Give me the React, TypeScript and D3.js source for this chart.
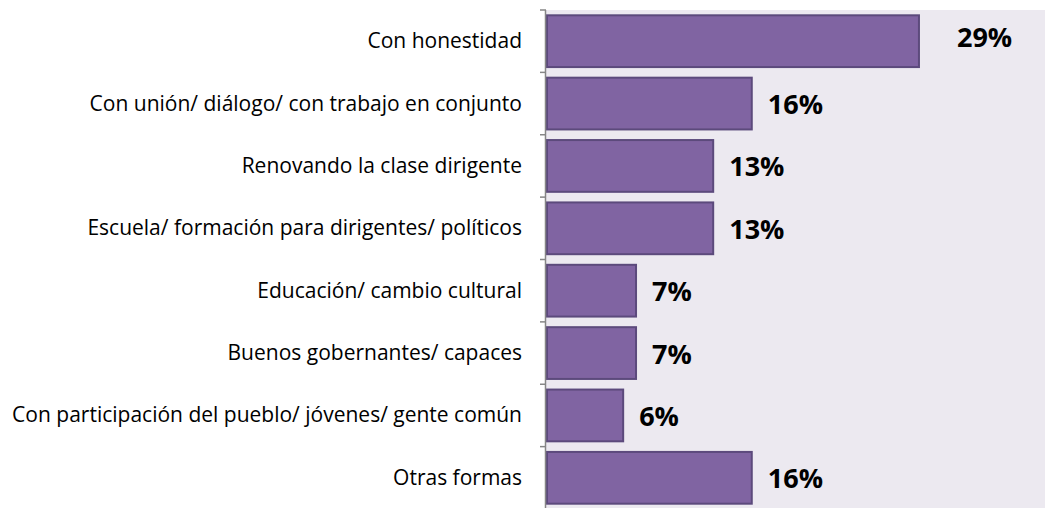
import React from "react";
import * as d3 from "d3";

const categories = [
  "Con honestidad",
  "Con unión/ diálogo/ con trabajo en conjunto",
  "Renovando la clase dirigente",
  "Escuela/ formación para dirigentes/ políticos",
  "Educación/ cambio cultural",
  "Buenos gobernantes/ capaces",
  "Con participación del pueblo/ jóvenes/ gente común",
  "Otras formas",
];
const values = [29, 16, 13, 13, 7, 7, 6, 16];
const valueLabels = ["29%", "16%", "13%", "13%", "7%", "7%", "6%", "16%"];

const W = 1045;
const H = 508;
const plotLeft = 546;
const plotTop = 10;
const plotBottom = 509;

export default function App() {
  const x = d3.scaleLinear().domain([0, 38.8]).range([plotLeft, W]);
  const y = d3
    .scaleBand<string>()
    .domain(categories)
    .range([plotTop, plotBottom])
    .paddingInner(0.17)
    .paddingOuter(0.085);
  const step = y.step();
  const ticks = d3.range(categories.length + 1).map((i) => plotTop + i * step);

  return (
    <svg
      width={W}
      height={H}
      style={{ position: "absolute", left: 0, top: 0, display: "block" }}
    >
      <rect x={0} y={0} width={W} height={H} fill="#ffffff" />
      <rect
        x={plotLeft}
        y={plotTop}
        width={W - plotLeft}
        height={H - plotTop}
        fill="#ECE9F0"
      />
      {categories.map((c, i) => {
        const yy = y(c)!;
        return (
          <g key={c}>
            <rect
              x={x(0) + 1}
              y={yy}
              width={x(values[i]) - x(0) - 1}
              height={y.bandwidth()}
              fill="#8064A2"
              stroke="#5C4A7C"
              strokeWidth={2}
            />
            <text
              x={522}
              y={yy + y.bandwidth() / 2 - 1}
              textAnchor="end"
              dominantBaseline="central"
              fontFamily="'Open Sans', sans-serif"
              fontSize={21}
              fill="#000"
            >
              {c}
            </text>
            <text
              x={x(values[i]) + (i === 0 ? 38 : 16)}
              y={yy + y.bandwidth() / 2 + (i === 0 ? -5 : 0)}
              dominantBaseline="central"
              fontFamily="'Open Sans', sans-serif"
              fontWeight="bold"
              fontSize={27}
              fill="#000"
            >
              {valueLabels[i]}
            </text>
          </g>
        );
      })}
      <line
        x1={plotLeft - 0.5}
        x2={plotLeft - 0.5}
        y1={plotTop}
        y2={H}
        stroke="#868686"
        strokeWidth={1.5}
      />
      {ticks.map((t, i) => (
        <line
          key={i}
          x1={plotLeft - 6}
          x2={plotLeft}
          y1={t}
          y2={t}
          stroke="#868686"
          strokeWidth={1.5}
        />
      ))}
    </svg>
  );
}
